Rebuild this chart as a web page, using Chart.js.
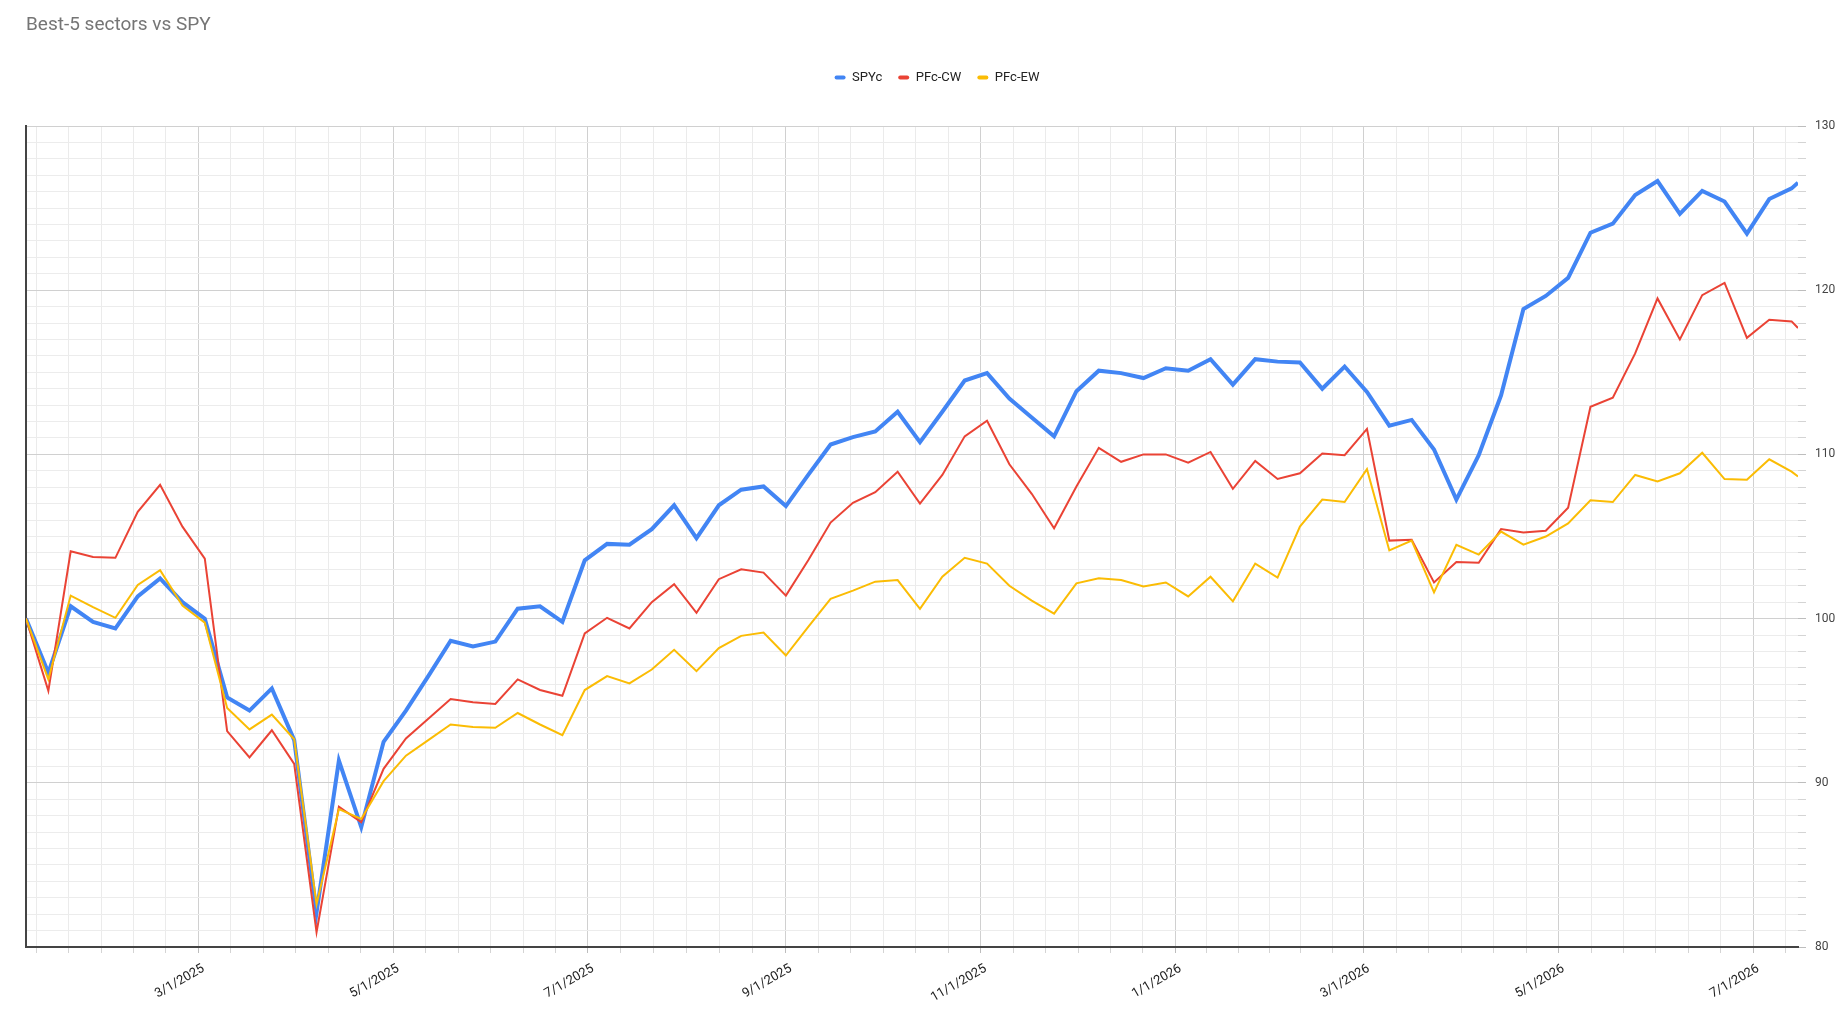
<!DOCTYPE html>
<html>
<head>
<meta charset="utf-8">
<title>Best-5 sectors vs SPY</title>
<script src="https://cdn.jsdelivr.net/npm/chart.js@4.4.1/dist/chart.umd.min.js"></script>
<style>
  html, body { margin: 0; padding: 0; background: #fff; }
  #wrap { width: 1848px; height: 1029px; }
</style>
</head>
<body>
<div id="wrap"><canvas id="grafico" width="1848" height="1029"></canvas></div>
<script>
// === Datos ===
var fechas = [
  '2025-01-06', '2025-01-13', '2025-01-20', '2025-01-27', '2025-02-03', '2025-02-10', '2025-02-17', '2025-02-24',
  '2025-03-03', '2025-03-10', '2025-03-17', '2025-03-24', '2025-03-31', '2025-04-07', '2025-04-14', '2025-04-21',
  '2025-04-28', '2025-05-05', '2025-05-12', '2025-05-19', '2025-05-26', '2025-06-02', '2025-06-09', '2025-06-16',
  '2025-06-23', '2025-06-30', '2025-07-07', '2025-07-14', '2025-07-21', '2025-07-28', '2025-08-04', '2025-08-11',
  '2025-08-18', '2025-08-25', '2025-09-01', '2025-09-08', '2025-09-15', '2025-09-22', '2025-09-29', '2025-10-06',
  '2025-10-13', '2025-10-20', '2025-10-27', '2025-11-03', '2025-11-10', '2025-11-17', '2025-11-24', '2025-12-01',
  '2025-12-08', '2025-12-15', '2025-12-22', '2025-12-29', '2026-01-05', '2026-01-12', '2026-01-19', '2026-01-26',
  '2026-02-02', '2026-02-09', '2026-02-16', '2026-02-23', '2026-03-02', '2026-03-09', '2026-03-16', '2026-03-23',
  '2026-03-30', '2026-04-06', '2026-04-13', '2026-04-20', '2026-04-27', '2026-05-04', '2026-05-11', '2026-05-18',
  '2026-05-25', '2026-06-01', '2026-06-08', '2026-06-15', '2026-06-22', '2026-06-29', '2026-07-06', '2026-07-13',
  '2026-07-15'
];

var spyc = [
  100, 96.7, 100.75, 99.8, 99.4, 101.35, 102.45, 101.0,
  100.0, 95.2, 94.4, 95.75, 92.6, 82.1, 91.35, 87.3,
  92.5, 94.4, 96.5, 98.65, 98.3, 98.6, 100.6, 100.75,
  99.8, 103.55, 104.55, 104.5, 105.45, 106.9, 104.9, 106.9,
  107.85, 108.05, 106.85, 108.75, 110.6, 111.05, 111.4, 112.6,
  110.75, 112.6, 114.5, 114.95, 113.4, 112.25, 111.1, 113.85,
  115.1, 114.95, 114.65, 115.25, 115.1, 115.8, 114.25, 115.8,
  115.65, 115.6, 114.0, 115.35, 113.8, 111.75, 112.1, 110.3,
  107.25, 109.95, 113.6, 118.85, 119.65, 120.75, 123.5, 124.05,
  125.8, 126.65, 124.65, 126.05, 125.4, 123.45, 125.55, 126.2,
  126.55
];

var pfcCW = [
  100, 95.6, 104.1, 103.75, 103.7, 106.5, 108.15, 105.6,
  103.65, 93.15, 91.55, 93.2, 91.15, 80.9, 88.55, 87.6,
  90.85, 92.7, 93.9, 95.1, 94.9, 94.8, 96.3, 95.65,
  95.3, 99.1, 100.05, 99.4, 101.0, 102.1, 100.35, 102.4,
  103.0, 102.8, 101.4, 103.55, 105.85, 107.05, 107.7, 108.95,
  107.0, 108.75, 111.1, 112.05, 109.4, 107.6, 105.5, 108.05,
  110.4, 109.55, 110.0, 110.0, 109.5, 110.15, 107.9, 109.6,
  108.5, 108.85, 110.05, 109.95, 111.55, 104.75, 104.8, 102.2,
  103.45, 103.4, 105.45, 105.25, 105.35, 106.75, 112.9, 113.45,
  116.15, 119.5, 117.0, 119.7, 120.45, 117.1, 118.2, 118.1,
  117.7
];

var pfcEW = [
  100, 96.3, 101.4, 100.7, 100.05, 102.05, 102.95, 100.8,
  99.75, 94.55, 93.25, 94.15, 92.65, 82.6, 88.4, 87.8,
  90.1, 91.65, 92.6, 93.55, 93.4, 93.35, 94.25, 93.55,
  92.9, 95.65, 96.5, 96.05, 96.9, 98.1, 96.8, 98.2,
  98.95, 99.15, 97.75, 99.5, 101.2, 101.7, 102.25, 102.35,
  100.6, 102.55, 103.7, 103.35, 102.0, 101.1, 100.3, 102.15,
  102.45, 102.35, 101.95, 102.2, 101.35, 102.55, 101.05, 103.35,
  102.5, 105.6, 107.25, 107.1, 109.1, 104.15, 104.75, 101.6,
  104.5, 103.9, 105.3, 104.5, 105.0, 105.8, 107.2, 107.1,
  108.75, 108.35, 108.85, 110.1, 108.5, 108.45, 109.7, 108.95,
  108.65
];

// etiquetas del eje X (cada dos meses) y del eje Y
var marcasX = ['2025-03-01', '2025-05-01', '2025-07-01', '2025-09-01', '2025-11-01',
               '2026-01-01', '2026-03-01', '2026-05-01', '2026-07-01'];
var marcasY = [80, 90, 100, 110, 120, 130];

// === Colores ===
var C_SPY = '#4285F4';
var C_CW  = '#EA4335';
var C_EW  = '#FBBC04';

var FONT = 'Roboto, Arial, sans-serif';

var xs = fechas.map(function (d) { return Date.parse(d); });

function puntos(serie) {
  return serie.map(function (v, i) { return { x: xs[i], y: v }; });
}

function fmtFecha(ms) {
  var d = new Date(ms);
  return (d.getUTCMonth() + 1) + '/' + d.getUTCDate() + '/' + d.getUTCFullYear();
}

// marcas mayores en cada etiqueta, 5 menores en cada tramo
function ticksX(scale) {
  var mayores = marcasX.map(function (d) { return Date.parse(d); });
  var out = [];
  var paso0 = (mayores[1] - mayores[0]) / 6;
  for (var t = mayores[0] - paso0; t > scale.min; t -= paso0) out.push({ value: t, major: false });
  mayores.forEach(function (m, i) {
    out.push({ value: m, major: true });
    var sig = mayores[i + 1];
    var paso = sig ? (sig - m) / 6 : (m - mayores[i - 1]) / 6;
    for (var k = 1; k < 6; k++) {
      var v = m + k * paso;
      if (sig ? v < sig : v <= scale.max) out.push({ value: v, major: false });
    }
  });
  out.sort(function (a, b) { return a.value - b.value; });
  scale.ticks = out;
}

function ticksY(scale) {
  var out = [];
  var lo = marcasY[0], hi = marcasY[marcasY.length - 1];
  for (var v = lo; v <= hi; v++) out.push({ value: v, major: marcasY.indexOf(v) >= 0 });
  scale.ticks = out;
}

var config = {
  type: 'line',
  data: {
    datasets: [
      { label: 'SPYc',   data: puntos(spyc),  borderColor: C_SPY, backgroundColor: C_SPY, borderWidth: 4, order: 2 },
      { label: 'PFc-CW', data: puntos(pfcCW), borderColor: C_CW,  backgroundColor: C_CW,  borderWidth: 2, order: 1 },
      { label: 'PFc-EW', data: puntos(pfcEW), borderColor: C_EW,  backgroundColor: C_EW,  borderWidth: 2, order: 0 }
    ]
  },
  options: {
    responsive: false,
    animation: false,
    devicePixelRatio: 1,
    layout: { padding: { left: 26, right: 0, top: 0, bottom: 0 } },
    elements: {
      point: { radius: 0, hoverRadius: 3 },
      line: { tension: 0 }
    },
    scales: {
      x: {
        type: 'linear',
        min: xs[0],
        max: xs[xs.length - 1],
        afterBuildTicks: ticksX,
        afterFit: function (s) { s.height = 82; },
        grid: {
          color: function (c) { return c.tick && c.tick.major ? '#d0d0d0' : '#ebebeb'; },
          tickColor: function (c) { return c.tick && c.tick.major ? '#bdbdbd' : '#d4d4d4'; },
          tickLength: 6
        },
        border: { display: true, color: '#444', width: 2 },
        ticks: {
          autoSkip: false,
          maxRotation: 30,
          minRotation: 30,
          padding: 8,
          labelOffset: 5,
          color: '#222',
          font: { family: FONT, size: 13 },
          callback: function (v, i, t) { return t[i].major ? fmtFecha(v) : ''; }
        }
      },
      y: {
        position: 'right',
        min: marcasY[0],
        max: marcasY[marcasY.length - 1],
        afterBuildTicks: ticksY,
        afterFit: function (s) { s.width = 50; },
        grid: {
          color: function (c) { return c.tick && c.tick.major ? '#d0d0d0' : '#ececec'; },
          tickColor: function (c) { return c.tick && c.tick.major ? '#bdbdbd' : '#d4d4d4'; },
          tickLength: 8
        },
        border: { display: false },
        ticks: {
          autoSkip: false,
          padding: 9,
          color: '#444',
          font: { family: FONT, size: 12 },
          callback: function (v) { return marcasY.indexOf(v) >= 0 ? String(v) : ''; }
        }
      },
      // eje izquierdo solo para la línea del borde
      yl: {
        position: 'left',
        min: marcasY[0],
        max: marcasY[marcasY.length - 1],
        afterFit: function (s) { s.width = 0; },
        grid: { drawOnChartArea: false, drawTicks: false },
        border: { display: true, color: '#444', width: 2 },
        ticks: { display: false }
      }
    },
    plugins: {
      title: {
        display: true,
        text: 'Best-5 sectors vs SPY',
        align: 'start',
        color: '#757575',
        font: { family: FONT, size: 19, weight: 'normal' },
        padding: { top: 14, bottom: 18.2 }
      },
      legend: {
        position: 'top',
        labels: {
          color: '#222',
          font: { family: FONT, size: 13 },
          boxWidth: 11,
          boxHeight: 4,
          padding: 16,
          useBorderRadius: true,
          borderRadius: 2,
          sort: function (a, b) { return a.datasetIndex - b.datasetIndex; },
          generateLabels: function (chart) {
            var items = Chart.defaults.plugins.legend.labels.generateLabels(chart);
            items.forEach(function (it) { it.lineWidth = 0; it.fillStyle = it.strokeStyle; });
            return items;
          }
        }
      },
      // separador entre la leyenda y el área del gráfico
      subtitle: {
        display: true,
        text: '',
        weight: 500,
        font: { size: 10 },
        padding: { top: 0, bottom: 20 }
      },
      tooltip: { mode: 'index', intersect: false }
    }
  }
};

var canvas = document.getElementById('grafico');
if (!canvas || typeof Chart === 'undefined') {
  console.error('No se encontró el canvas o Chart.js no está cargado.');
} else {
  new Chart(canvas, config);
}
</script>
</body>
</html>
